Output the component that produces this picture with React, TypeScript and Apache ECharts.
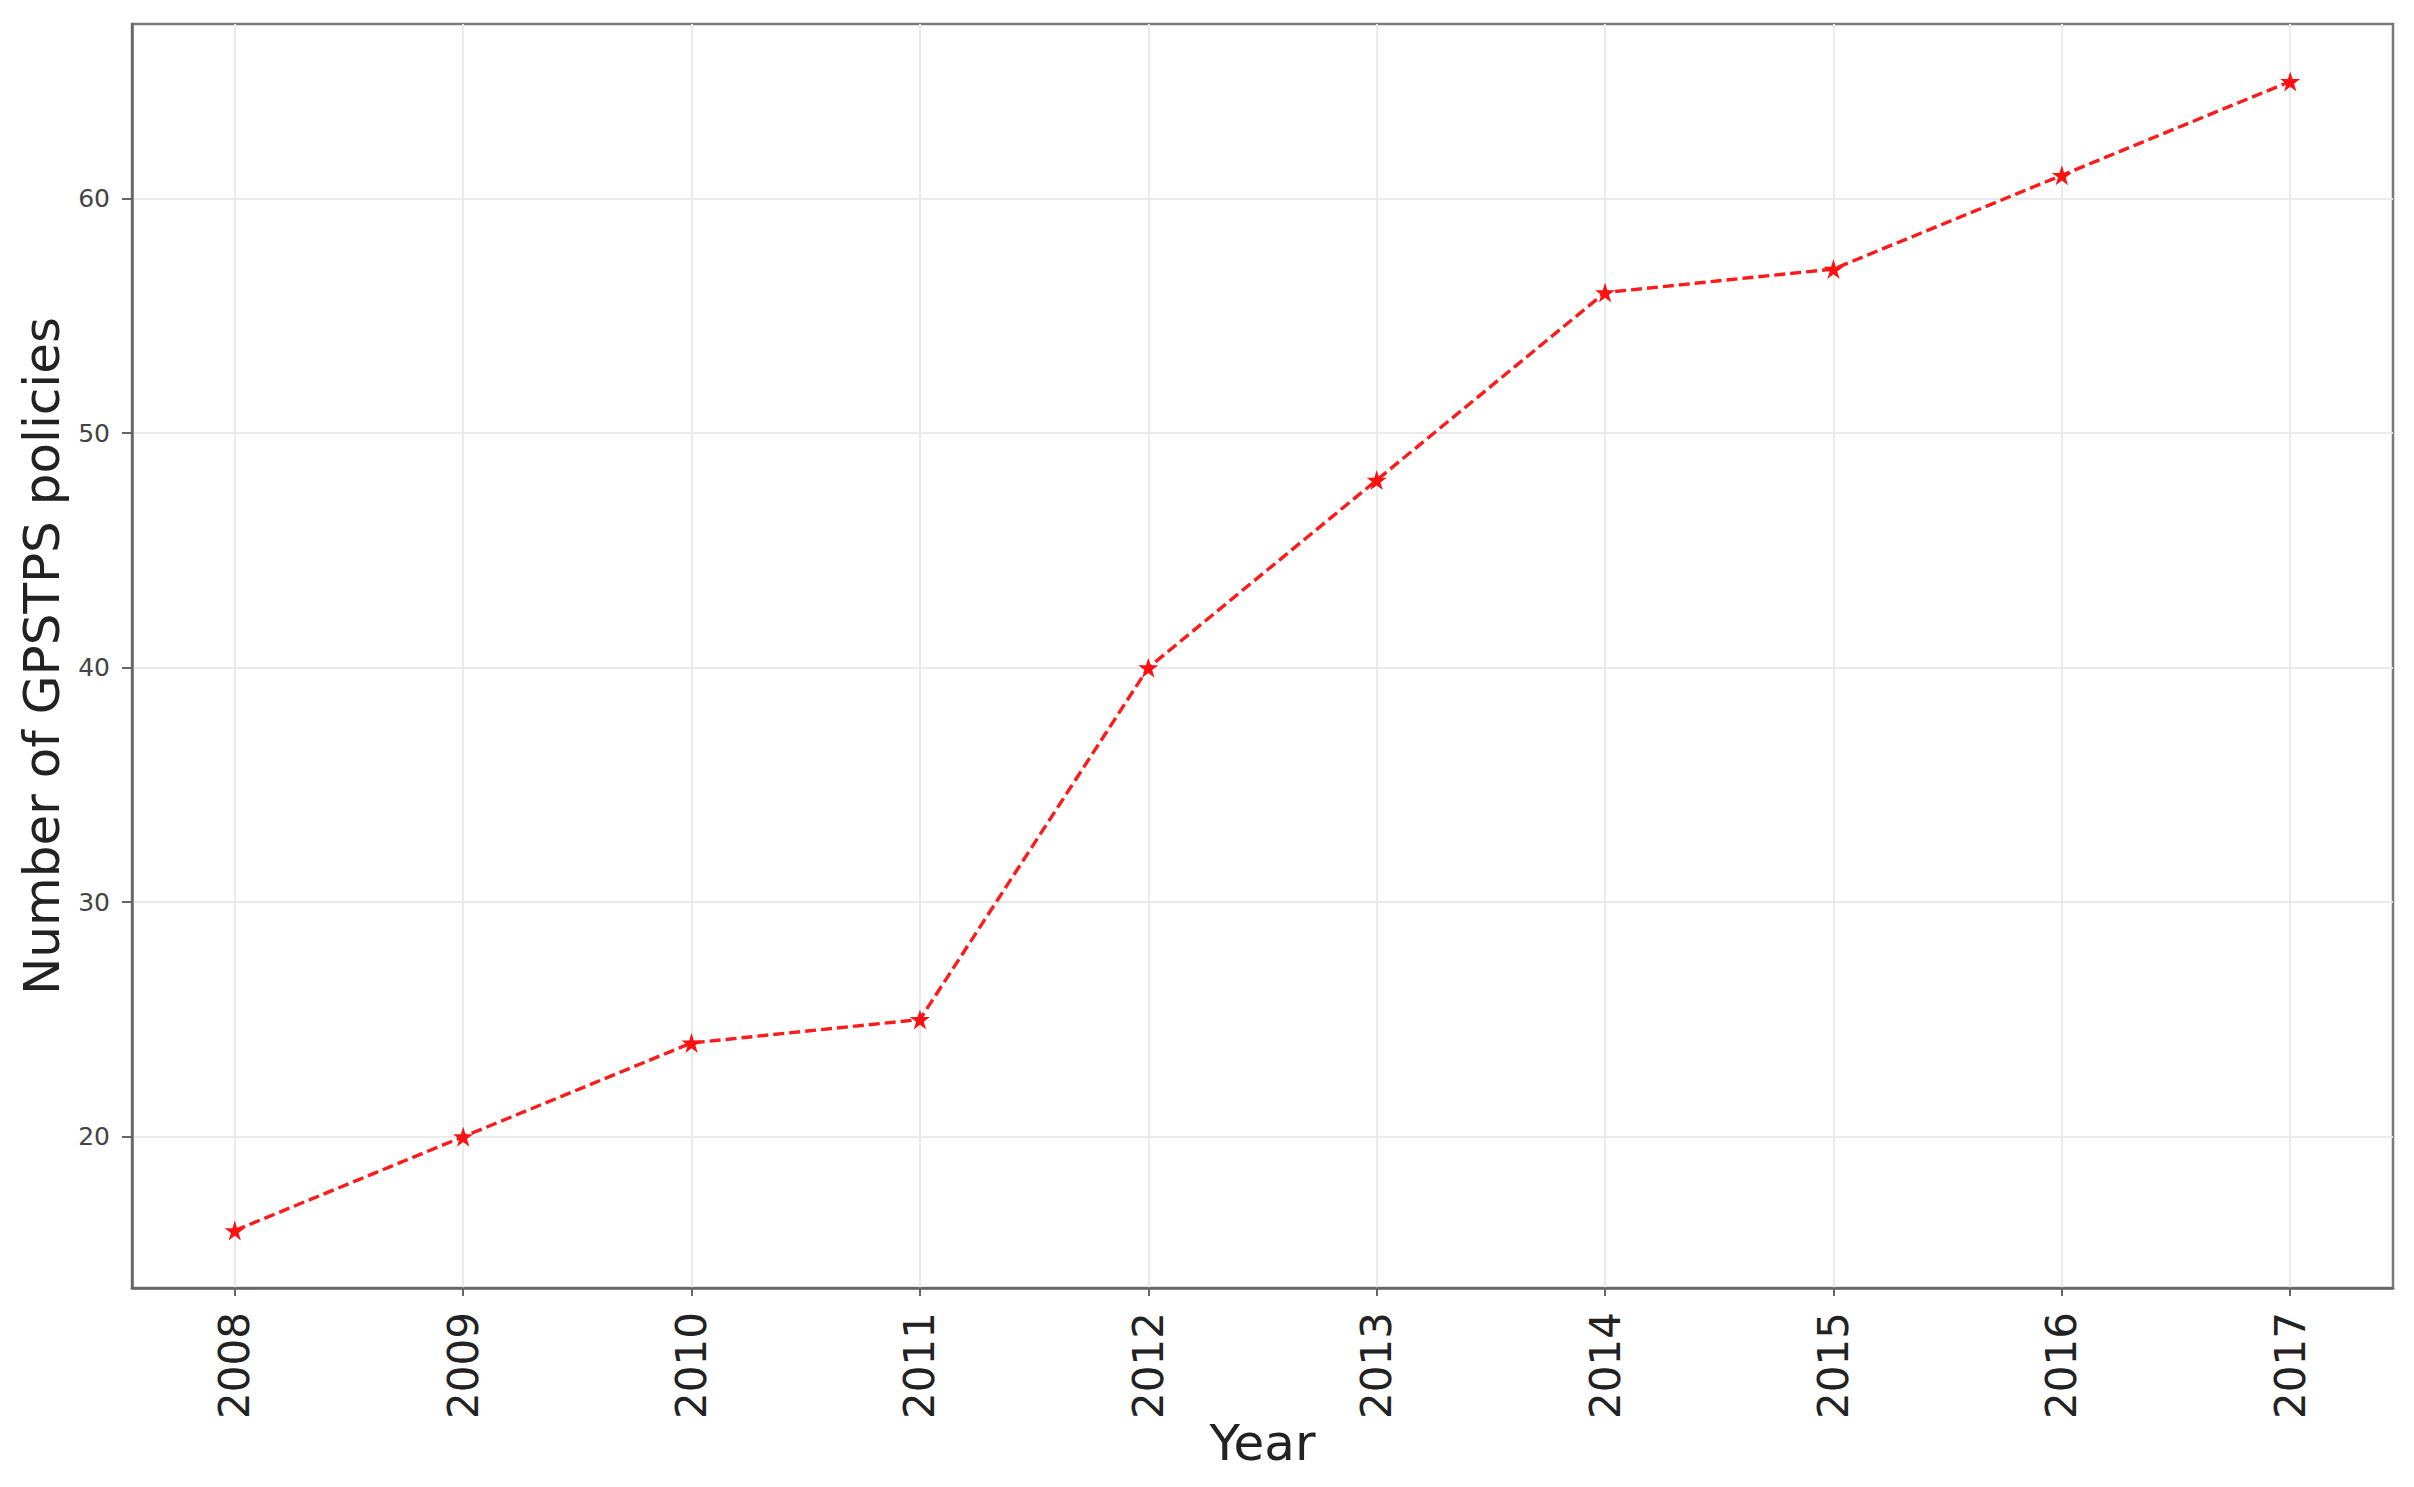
import React, { useEffect, useRef } from "react";
import * as echarts from "echarts";

const years = [2008, 2009, 2010, 2011, 2012, 2013, 2014, 2015, 2016, 2017];
const policies = [16, 20, 24, 25, 40, 48, 56, 57, 61, 65];
const yTicks = [20, 30, 40, 50, 60];
const xName = "Year";
const yName = "Number of GPSTPS policies";

const STAR =
  "path://M50,0 L61.2,34.5 L97.6,34.5 L68.2,55.9 L79.4,90.5 L50,69.1 L20.6,90.5 L31.8,55.9 L2.4,34.5 L38.8,34.5 Z";

export default function App() {
  const ref = useRef<HTMLDivElement>(null);
  useEffect(() => {
    if (!ref.current) return;
    const chart = echarts.init(ref.current, null, { renderer: "svg" });
    const font = "DejaVu Sans";
    chart.setOption({
      animation: false,
      backgroundColor: "#ffffff",
      grid: {
        left: 132,
        top: 24,
        right: 21,
        bottom: 199,
        show: true,
        borderColor: "#7a7a7a",
        borderWidth: 2.5,
        backgroundColor: "transparent",
      },
      xAxis: {
        type: "value",
        min: 2007.55,
        max: 2017.45,
        name: xName,
        nameLocation: "middle",
        nameGap: 130,
        nameMoveOverlap: false,
        nameTextStyle: { fontFamily: font, fontSize: 50, color: "#222" },
        axisLine: { show: true, lineStyle: { color: "#666", width: 2.5 } },
        axisTick: {
          show: true,
          length: 8,
          customValues: years,
          lineStyle: { color: "#666", width: 2 },
        },
        axisLabel: {
          customValues: years,
          rotate: 90,
          margin: 24,
          fontFamily: font,
          fontSize: 42,
          color: "#222",
          formatter: (v: number) => String(Math.round(v)),
        },
        splitLine: { show: true, lineStyle: { color: "#ebebeb", width: 2 } },
      },
      yAxis: {
        type: "value",
        min: 13.55,
        max: 67.45,
        name: yName,
        nameLocation: "middle",
        nameRotate: 90,
        nameGap: 65,
        nameMoveOverlap: false,
        nameTextStyle: { fontFamily: font, fontSize: 50, color: "#222" },
        axisLine: { show: true, lineStyle: { color: "#666", width: 2.5 } },
        axisTick: {
          show: true,
          length: 10,
          customValues: yTicks,
          lineStyle: { color: "#666", width: 2 },
        },
        axisLabel: {
          customValues: yTicks,
          margin: 22,
          fontFamily: font,
          fontSize: 25,
          color: "#444",
        },
        splitLine: { show: true, lineStyle: { color: "#ebebeb", width: 2 } },
      },
      series: [
        {
          type: "line",
          data: years.map((y, i) => [y, policies[i]]),
          symbol: STAR,
          symbolSize: 20,
          itemStyle: { color: "#ff1010" },
          lineStyle: { color: "#ff1a1a", width: 3.4, type: [11, 5] },
          z: 5,
        },
      ],
    });
    return () => chart.dispose();
  }, []);
  return (
    <div
      ref={ref}
      style={{ position: "fixed", left: 0, top: 0, width: 2414, height: 1487 }}
    />
  );
}
